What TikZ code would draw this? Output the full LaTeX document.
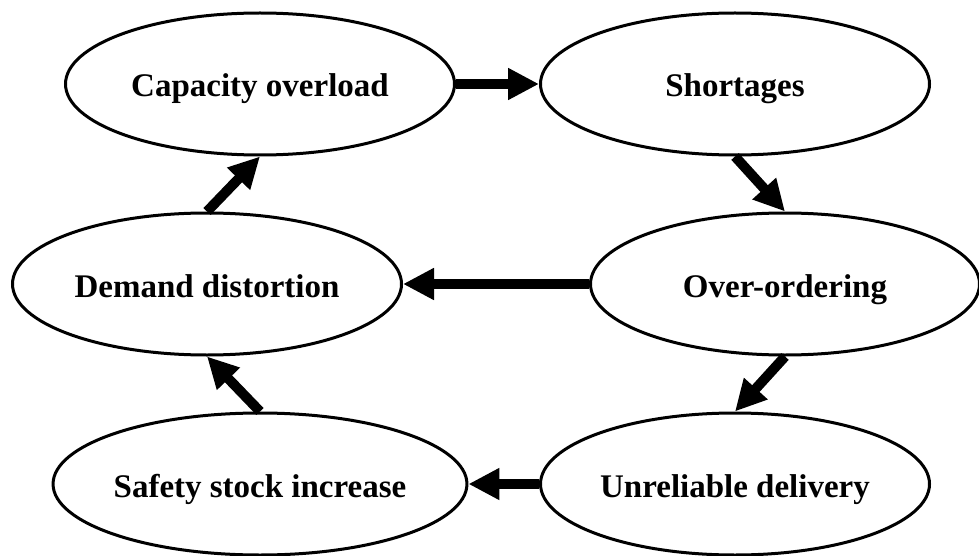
\documentclass[tikz,border=0pt]{standalone}
\usepackage{fontspec}
\setmainfont{Liberation Serif}
\usetikzlibrary{shapes.geometric,arrows.meta}
\begin{document}
\begin{tikzpicture}[x=1pt,y=-1pt,
  bubble/.style={ellipse,draw,line width=3pt,minimum width=389pt,minimum height=142pt,inner sep=0pt,
    font=\fontsize{33}{38}\selectfont\bfseries,text height=26pt,text depth=0pt},
  flow/.style={line width=10pt,-{Triangle[length=31pt,width=30pt]}}]
\useasboundingbox (0,0) rectangle (979,556);
\node[bubble] (cap) at (260,84) {Capacity overload};
\node[bubble] (short) at (735,84) {Shortages};
\node[bubble] (dem) at (207,284) {Demand distortion};
\node[bubble] (over) at (785,284) {Over-ordering};
\node[bubble] (safe) at (260,484) {Safety stock increase};
\node[bubble] (unrel) at (735,484) {Unreliable delivery};
\draw[flow] (cap.east) -- (short.west);
\draw[flow] (short.south) -- (over.north);
\draw[flow] (over.west) -- (dem.east);
\draw[flow] (over.south) -- (unrel.north);
\draw[flow] (unrel.west) -- (safe.east);
\draw[flow] (safe.north) -- (dem.south);
\draw[flow] (dem.north) -- (cap.south);
\end{tikzpicture}
\end{document}
